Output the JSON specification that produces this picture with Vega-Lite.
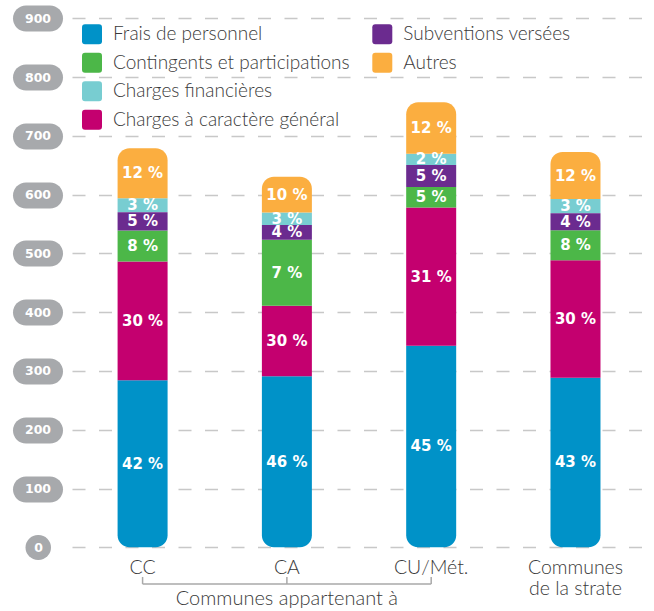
{
  "$schema": "https://vega.github.io/schema/vega-lite/v6.json",
  "width": 582,
  "height": 611,
  "padding": {"left": 72, "top": 0, "right": 0, "bottom": 0},
  "autosize": {"type": "none"},
  "background": "white",
  "config": {"view": {"stroke": null}},
  "data": {
    "values": [
      {"cat": "CC", "type": "Frais de personnel", "montant": 284, "pct": 42},
      {"cat": "CC", "type": "Charges à caractère général", "montant": 202, "pct": 30},
      {"cat": "CC", "type": "Contingents et participations", "montant": 53, "pct": 8},
      {"cat": "CC", "type": "Subventions versées", "montant": 31, "pct": 5},
      {"cat": "CC", "type": "Charges financières", "montant": 24, "pct": 3},
      {"cat": "CC", "type": "Autres", "montant": 85, "pct": 12},
      {"cat": "CA", "type": "Frais de personnel", "montant": 291, "pct": 46},
      {"cat": "CA", "type": "Charges à caractère général", "montant": 120, "pct": 30},
      {"cat": "CA", "type": "Contingents et participations", "montant": 112, "pct": 7},
      {"cat": "CA", "type": "Subventions versées", "montant": 25.5, "pct": 4},
      {"cat": "CA", "type": "Charges financières", "montant": 21, "pct": 3},
      {"cat": "CA", "type": "Autres", "montant": 61, "pct": 10},
      {"cat": "CU/Mét.", "type": "Frais de personnel", "montant": 343, "pct": 45},
      {"cat": "CU/Mét.", "type": "Charges à caractère général", "montant": 235, "pct": 31},
      {"cat": "CU/Mét.", "type": "Contingents et participations", "montant": 35, "pct": 5},
      {"cat": "CU/Mét.", "type": "Subventions versées", "montant": 37.5, "pct": 5},
      {"cat": "CU/Mét.", "type": "Charges financières", "montant": 19, "pct": 2},
      {"cat": "CU/Mét.", "type": "Autres", "montant": 87.5, "pct": 12},
      {"cat": "Communes de la strate", "type": "Frais de personnel", "montant": 288.5, "pct": 43},
      {"cat": "Communes de la strate", "type": "Charges à caractère général", "montant": 200, "pct": 30},
      {"cat": "Communes de la strate", "type": "Contingents et participations", "montant": 51, "pct": 8},
      {"cat": "Communes de la strate", "type": "Subventions versées", "montant": 29, "pct": 4},
      {"cat": "Communes de la strate", "type": "Charges financières", "montant": 24, "pct": 3},
      {"cat": "Communes de la strate", "type": "Autres", "montant": 80, "pct": 12}
    ]
  },
  "resolve": {"scale": {"color": "independent"}, "axis": {"y": "independent"}},
  "layer": [
    {
      "transform": [
        {"calculate": "indexof(['Frais de personnel','Charges à caractère général','Contingents et participations','Subventions versées','Charges financières','Autres'], datum.type)", "as": "ordre"},
        {"stack": "montant", "groupby": ["cat"], "sort": [{"field": "ordre", "order": "ascending"}], "as": ["y0", "y1"]},
        {"filter": {"field": "type", "oneOf": ["Frais de personnel", "Contingents et participations", "Charges financières", "Charges à caractère général"]}}
      ],
      "mark": {
        "type": "bar",
        "cornerRadiusBottomLeft": {"expr": "datum.type === 'Frais de personnel' ? 12 : 0"},
        "cornerRadiusBottomRight": {"expr": "datum.type === 'Frais de personnel' ? 12 : 0"}
      },
      "encoding": {
        "x": {
          "field": "cat", "type": "nominal", "sort": null,
          "scale": {"domain": ["CC", "CA", "CU/Mét.", "Communes de la strate"], "paddingInner": 0.6535, "paddingOuter": 0.3434, "align": 0.46},
          "axis": null
        },
        "y": {
          "field": "y1", "type": "quantitative",
          "scale": {"domain": [-108.4, 931.1], "nice": false, "zero": false},
          "axis": {
            "orient": "left", "values": [100, 200, 300, 400, 500, 600, 700, 800, 900],
            "offset": 22.5, "domain": false, "title": null,
            "grid": true, "gridDash": [13, 13.5], "gridColor": "#c8c8c8", "gridWidth": 1.5,
            "ticks": true, "tickSize": 24, "tickWidth": 26, "tickCap": "round", "tickColor": "#a7a9ac",
            "labelAlign": "center", "labelBaseline": "middle", "labelPadding": -12,
            "labelFont": "DejaVu Sans", "labelFontWeight": "bold", "labelFontSize": 12.5, "labelColor": "#ffffff",
            "labelOverlap": false, "labelBound": false, "labelFlush": false
          }
        },
        "y2": {"field": "y0"},
        "color": {
          "field": "type", "type": "nominal",
          "scale": {"domain": ["Frais de personnel", "Contingents et participations", "Charges financières", "Charges à caractère général"], "range": ["#0092c8", "#4cb748", "#78cdd1", "#c4006f"]},
          "legend": {
            "orient": "none", "legendX": 10, "legendY": 24.2, "title": null, "direction": "vertical",
            "symbolType": "M-1,-0.7Q-1,-1 -0.7,-1L0.7,-1Q1,-1 1,-0.7L1,0.7Q1,1 0.7,1L-0.7,1Q-1,1 -1,0.7Z",
            "symbolSize": 400, "symbolStrokeWidth": 0, "symbolOpacity": 1,
            "labelFont": "Lato", "labelFontWeight": 300, "labelFontSize": 19, "labelColor": "#3a3a3a",
            "labelOffset": 11, "rowPadding": 8.5, "padding": 0, "labelLimit": 400
          }
        }
      }
    },
    {
      "transform": [
        {"calculate": "indexof(['Frais de personnel','Charges à caractère général','Contingents et participations','Subventions versées','Charges financières','Autres'], datum.type)", "as": "ordre"},
        {"stack": "montant", "groupby": ["cat"], "sort": [{"field": "ordre", "order": "ascending"}], "as": ["y0", "y1"]},
        {"filter": {"field": "type", "oneOf": ["Subventions versées", "Autres"]}}
      ],
      "mark": {
        "type": "bar",
        "cornerRadiusTopLeft": {"expr": "datum.type === 'Autres' ? 12 : 0"},
        "cornerRadiusTopRight": {"expr": "datum.type === 'Autres' ? 12 : 0"}
      },
      "encoding": {
        "x": {"field": "cat", "type": "nominal", "sort": null, "axis": null},
        "y": {
          "field": "y1", "type": "quantitative",
          "scale": {"domain": [-108.4, 931.1], "nice": false, "zero": false},
          "axis": {
            "orient": "left", "values": [0],
            "offset": 34, "domain": false, "title": null,
            "grid": true, "gridDash": [13, 13.5], "gridColor": "#c8c8c8", "gridWidth": 1.5,
            "ticks": true, "tickSize": 0.5, "tickWidth": 25, "tickCap": "round", "tickColor": "#a7a9ac",
            "labelAlign": "center", "labelBaseline": "middle", "labelPadding": -0.5,
            "labelFont": "DejaVu Sans", "labelFontWeight": "bold", "labelFontSize": 12.5, "labelColor": "#ffffff",
            "labelOverlap": false, "labelBound": false, "labelFlush": false
          }
        },
        "y2": {"field": "y0"},
        "color": {
          "field": "type", "type": "nominal",
          "scale": {"domain": ["Subventions versées", "Autres"], "range": ["#6b2b8f", "#fbae40"]},
          "legend": {
            "orient": "none", "legendX": 300.3, "legendY": 24.2, "title": null, "direction": "vertical",
            "symbolType": "M-1,-0.7Q-1,-1 -0.7,-1L0.7,-1Q1,-1 1,-0.7L1,0.7Q1,1 0.7,1L-0.7,1Q-1,1 -1,0.7Z",
            "symbolSize": 400, "symbolStrokeWidth": 0, "symbolOpacity": 1,
            "labelFont": "Lato", "labelFontWeight": 300, "labelFontSize": 19, "labelColor": "#3a3a3a",
            "labelOffset": 11, "rowPadding": 8.5, "padding": 0, "labelLimit": 400
          }
        }
      }
    },
    {
      "transform": [
        {"calculate": "indexof(['Frais de personnel','Charges à caractère général','Contingents et participations','Subventions versées','Charges financières','Autres'], datum.type)", "as": "ordre"},
        {"stack": "montant", "groupby": ["cat"], "sort": [{"field": "ordre", "order": "ascending"}], "as": ["y0", "y1"]},
        {"calculate": "(datum.y0 + datum.y1) / 2", "as": "ymid"},
        {"calculate": "datum.pct + ' %'", "as": "etiquette"}
      ],
      "mark": {"type": "text", "font": "DejaVu Sans", "fontWeight": "bold", "fontSize": 15, "color": "#ffffff", "baseline": "middle", "align": "center"},
      "encoding": {
        "x": {"field": "cat", "type": "nominal", "sort": null, "axis": null},
        "y": {"field": "ymid", "type": "quantitative", "axis": null, "scale": {"domain": [-108.4, 931.1], "nice": false, "zero": false}},
        "text": {"field": "etiquette"}
      }
    },
    {
      "data": {"values": [{"cat": "CC"}, {"cat": "CA"}, {"cat": "CU/Mét."}, {"cat": "Communes de la strate"}]},
      "transform": [
        {"calculate": "datum.cat === 'Communes de la strate' ? ['Communes', 'de la strate'] : datum.cat", "as": "lab"}
      ],
      "mark": {"type": "text", "font": "Lato", "fontWeight": 300, "fontSize": 19.5, "color": "#3a3a3a", "baseline": "alphabetic", "align": "center", "lineHeight": 20.5},
      "encoding": {
        "x": {"field": "cat", "type": "nominal", "sort": null, "axis": null},
        "y": {"datum": -45.5, "type": "quantitative", "axis": null, "scale": {"domain": [-108.4, 931.1], "nice": false, "zero": false}},
        "text": {"field": "lab"}
      }
    },
    {
      "data": {"values": [{"cat": "CC"}, {"cat": "CA"}, {"cat": "CU/Mét."}]},
      "mark": {"type": "rule", "color": "#a9a9a9", "strokeWidth": 1.5},
      "encoding": {
        "x": {"field": "cat", "type": "nominal", "sort": null, "axis": null, "bandPosition": 0.5},
        "y": {"datum": -50.5, "type": "quantitative", "axis": null, "scale": {"domain": [-108.4, 931.1], "nice": false, "zero": false}},
        "y2": {"datum": -62.4}
      }
    },
    {
      "data": {"values": [{"cat": "CC", "cat2": "CU/Mét."}]},
      "mark": {"type": "rule", "color": "#a9a9a9", "strokeWidth": 1.5},
      "encoding": {
        "x": {"field": "cat", "type": "nominal", "sort": null, "axis": null, "bandPosition": 0.5},
        "x2": {"field": "cat2", "bandPosition": 0.5},
        "y": {"datum": -62.4, "type": "quantitative", "axis": null, "scale": {"domain": [-108.4, 931.1], "nice": false, "zero": false}}
      }
    },
    {
      "data": {"values": [{"cat": "CA", "texte": "Communes appartenant à"}]},
      "mark": {"type": "text", "font": "Lato", "fontWeight": 300, "fontSize": 20, "color": "#3a3a3a", "baseline": "alphabetic", "align": "center"},
      "encoding": {
        "x": {"field": "cat", "type": "nominal", "sort": null, "axis": null},
        "y": {"datum": -98.2, "type": "quantitative", "axis": null, "scale": {"domain": [-108.4, 931.1], "nice": false, "zero": false}},
        "text": {"field": "texte"}
      }
    }
  ]
}
